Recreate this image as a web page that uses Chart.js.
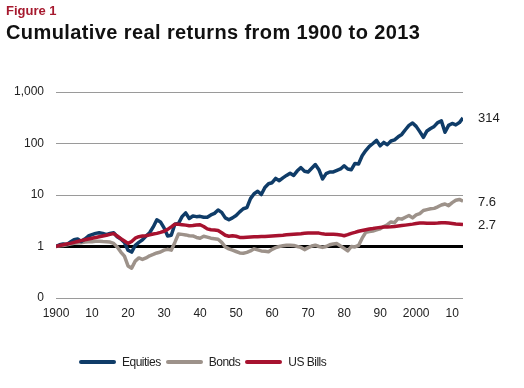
<!DOCTYPE html>
<html>
<head>
<meta charset="utf-8">
<script src="https://cdn.jsdelivr.net/npm/chart.js@4"></script>
<style>
  html, body { margin: 0; padding: 0; background: #fff; }
  #wrap { position: relative; width: 524px; height: 388px; overflow: hidden; font-family: "Liberation Sans", Arial, sans-serif; }
  #fig { position: absolute; left: 6px; top: 3px; font-size: 13px; font-weight: bold; color: #a6192e; }
  #title { position: absolute; left: 6px; top: 21px; font-size: 20px; font-weight: bold; color: #111; letter-spacing: 0.4px; }
  canvas { position: absolute; left: 0; top: 0; }
  #legend { position: absolute; left: 79px; top: 355px; display: flex; align-items: center; font-size: 12px; color: #222; letter-spacing: -0.5px; }
  .item { display: flex; align-items: center; margin-right: 5px; }
  .sw { width: 37px; height: 4px; border-radius: 2px; margin-right: 6px; }
</style>
</head>
<body>
<div id="wrap">
  <canvas id="chart" width="524" height="388"></canvas>
  <div id="fig">Figure 1</div>
  <div id="title">Cumulative real returns from 1900 to 2013</div>
  <div id="legend"></div>
</div>
<script>
// Data (cumulative real return index, 1900 = 1)
const startYear = 1900;

const equities = [
  1.00, 1.08, 1.12, 1.10, 1.22, 1.35, 1.40, 1.25, 1.40, 1.60,
  1.70, 1.80, 1.85, 1.80, 1.70, 1.80, 1.85, 1.55, 1.40, 1.20,
  0.85, 0.78, 1.05, 1.20, 1.35, 1.60, 1.85, 2.40, 3.30, 3.00,
  2.30, 1.60, 1.65, 2.70, 2.80, 3.80, 4.50, 3.50, 3.90, 3.80,
  3.85, 3.70, 3.70, 4.10, 4.40, 5.10, 4.60, 3.60, 3.30, 3.60,
  4.00, 4.70, 5.40, 5.70, 8.50, 10.6, 11.8, 10.2, 14.0, 16.5,
  17.3, 21.0, 19.0, 21.5, 24.0, 26.5, 24.0, 29.5, 34.0, 29.0,
  28.0, 33.0, 39.0, 31.0, 20.5, 26.0, 28.0, 28.0, 30.0, 32.0,
  37.0, 32.0, 31.0, 41.0, 40.0, 58.0, 73.0, 88.0, 100, 115,
  90.0, 105, 95.0, 112, 118, 135, 150, 185, 225, 250,
  215, 170, 132, 175, 195, 215, 255, 275, 165, 225,
  245, 230, 255, 314
];

const bonds = [
  1.00, 1.03, 1.05, 1.08, 1.12, 1.15, 1.17, 1.18, 1.22, 1.23,
  1.24, 1.26, 1.27, 1.25, 1.24, 1.22, 1.15, 0.98, 0.78, 0.65,
  0.42, 0.38, 0.52, 0.60, 0.56, 0.60, 0.66, 0.70, 0.75, 0.78,
  0.85, 0.88, 0.85, 1.20, 1.75, 1.72, 1.68, 1.62, 1.60, 1.50,
  1.45, 1.58, 1.52, 1.45, 1.42, 1.38, 1.20, 0.98, 0.90, 0.85,
  0.80, 0.75, 0.74, 0.77, 0.82, 0.90, 0.86, 0.82, 0.81, 0.79,
  0.88, 0.95, 1.00, 1.03, 1.06, 1.06, 1.05, 1.00, 0.96, 0.87,
  0.95, 1.02, 1.06, 1.00, 0.96, 1.00, 1.08, 1.12, 1.14, 1.02,
  0.92, 0.82, 1.00, 0.98, 1.05, 1.45, 1.88, 1.95, 2.00, 2.10,
  2.20, 2.45, 2.65, 3.00, 2.90, 3.50, 3.40, 3.70, 4.00, 3.60,
  4.10, 4.35, 5.00, 5.20, 5.40, 5.50, 5.90, 6.40, 6.70, 6.20,
  7.10, 7.90, 8.20, 7.60
];

const bills = [
  1.00, 1.05, 1.08, 1.12, 1.15, 1.20, 1.25, 1.30, 1.35, 1.40,
  1.45, 1.50, 1.55, 1.60, 1.65, 1.72, 1.78, 1.60, 1.42, 1.28,
  1.15, 1.25, 1.45, 1.55, 1.60, 1.62, 1.68, 1.75, 1.80, 1.88,
  1.98, 2.15, 2.40, 2.70, 2.70, 2.65, 2.60, 2.52, 2.55, 2.62,
  2.65, 2.45, 2.20, 2.12, 2.10, 2.05, 1.85, 1.65, 1.58, 1.62,
  1.58, 1.50, 1.50, 1.52, 1.53, 1.54, 1.55, 1.56, 1.56, 1.58,
  1.60, 1.62, 1.64, 1.66, 1.69, 1.71, 1.73, 1.75, 1.77, 1.80,
  1.82, 1.83, 1.83, 1.82, 1.76, 1.72, 1.73, 1.72, 1.71, 1.68,
  1.62, 1.70, 1.80, 1.88, 1.98, 2.05, 2.12, 2.18, 2.23, 2.30,
  2.35, 2.38, 2.40, 2.42, 2.45, 2.50, 2.55, 2.60, 2.66, 2.72,
  2.80, 2.85, 2.86, 2.84, 2.82, 2.82, 2.85, 2.90, 2.90, 2.85,
  2.80, 2.74, 2.70, 2.66
];

const seriesNames = ['Equities', 'Bonds', 'US Bills'];
const seriesColors = ['#0f3c68', '#9d928a', '#a7122f'];
const endLabels = ['314', '7.6', '2.7'];

const xTicks = [1900, 1910, 1920, 1930, 1940, 1950, 1960, 1970, 1980, 1990, 2000, 2010];
const xTickLabels = ['1900', '10', '20', '30', '40', '50', '60', '70', '80', '90', '2000', '10'];
const yTicks = [0.1, 1, 10, 100, 1000];
const yTickLabels = ['0', '1', '10', '100', '1,000'];

const allSeries = [equities, bonds, bills];
const drawOrder = [1, 2, 0]; // bills on top

function toPoints(values) {
  return values.map((v, i) => ({ x: startYear + i, y: v }));
}

// Labels at the end of each line
const endLabelPlugin = {
  id: 'endLabels',
  afterDatasetsDraw(chart) {
    const { ctx, scales } = chart;
    ctx.save();
    ctx.font = '13px "Liberation Sans", Arial, sans-serif';
    ctx.fillStyle = '#222';
    ctx.textBaseline = 'middle';
    ctx.textAlign = 'left';
    allSeries.forEach((vals, i) => {
      const y = scales.y.getPixelForValue(vals[vals.length - 1]);
      ctx.fillText(endLabels[i], scales.x.right + 15, y + 1);
    });
    ctx.restore();
  },
};

new Chart(document.getElementById('chart'), {
  type: 'line',
  data: {
    datasets: allSeries.map((vals, i) => ({
      label: seriesNames[i],
      data: toPoints(vals),
      borderColor: seriesColors[i],
      borderWidth: 3.5,
      pointRadius: 0,
      tension: 0,
      order: drawOrder[i],
      borderJoinStyle: 'round',
    })),
  },
  options: {
    responsive: false,
    animation: false,
    layout: { padding: { top: 92, right: 61, left: 0, bottom: 0 } },
    plugins: {
      legend: { display: false },
      tooltip: { enabled: false },
    },
    scales: {
      x: {
        type: 'linear',
        min: 1900,
        max: 2013,
        grid: { display: false, drawTicks: false },
        border: { display: false },
        afterBuildTicks: (s) => { s.ticks = xTicks.map((v) => ({ value: v })); },
        afterFit: (s) => { s.height = 90; },
        ticks: {
          autoSkip: false,
          maxRotation: 0,
          padding: 8,
          color: '#222',
          font: { family: '"Liberation Sans", Arial, sans-serif', size: 12 },
          callback: (v, i) => xTickLabels[i],
        },
      },
      y: {
        type: 'logarithmic',
        min: 0.1,
        max: 1000,
        border: { display: false },
        grid: {
          drawTicks: false,
          color: (c) => (c.tick && c.tick.value === 1 ? '#000' : '#9a9a9a'),
          lineWidth: (c) => (c.tick && c.tick.value === 1 ? 3 : 1),
        },
        afterBuildTicks: (s) => { s.ticks = yTicks.map((v) => ({ value: v })); },
        afterFit: (s) => { s.width = 56; },
        ticks: {
          padding: 12,
          color: '#222',
          font: { family: '"Liberation Sans", Arial, sans-serif', size: 12 },
          callback: (v, i) => yTickLabels[i],
        },
      },
    },
  },
  plugins: [endLabelPlugin],
});

// HTML legend
const legendEl = document.getElementById('legend');
seriesNames.forEach((name, i) => {
  const item = document.createElement('div');
  item.className = 'item';
  item.innerHTML = `<div class="sw" style="background:${seriesColors[i]}"></div><span>${name}</span>`;
  legendEl.appendChild(item);
});
</script>
</body>
</html>
